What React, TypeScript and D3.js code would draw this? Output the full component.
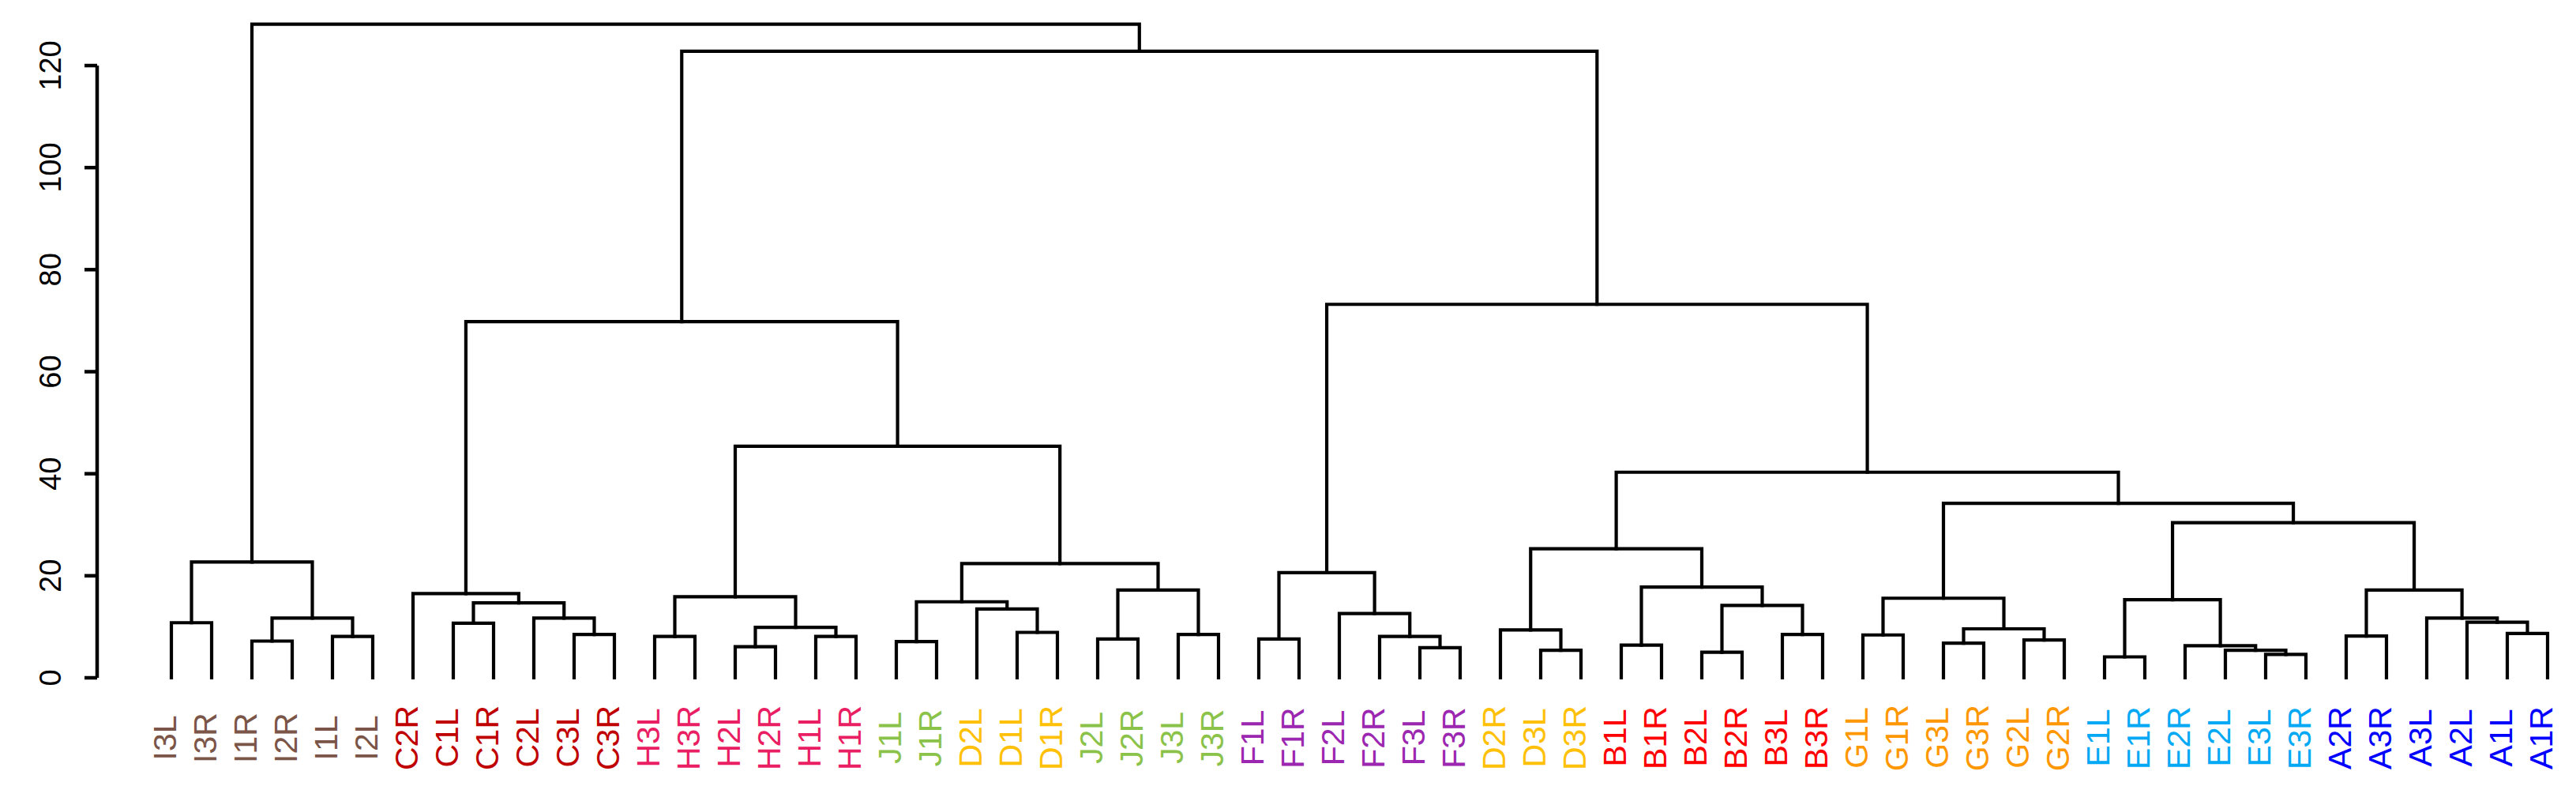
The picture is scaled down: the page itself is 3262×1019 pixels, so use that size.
import React from "react";
import * as d3 from "d3";

const leafLabels = [
  "I3L", "I3R", "I1R", "I2R", "I1L", "I2L",
  "C2R", "C1L", "C1R", "C2L", "C3L", "C3R",
  "H3L", "H3R", "H2L", "H2R", "H1L", "H1R",
  "J1L", "J1R", "D2L", "D1L", "D1R", "J2L", "J2R", "J3L", "J3R",
  "F1L", "F1R", "F2L", "F2R", "F3L", "F3R",
  "D2R", "D3L", "D3R",
  "B1L", "B1R", "B2L", "B2R", "B3L", "B3R",
  "G1L", "G1R", "G3L", "G3R", "G2L", "G2R",
  "E1L", "E1R", "E2R", "E2L", "E3L", "E3R",
  "A2R", "A3R", "A3L", "A2L", "A1L", "A1R",
];

// merge list: [childA, childB, height]; a string is a leaf label, a number is an earlier merge index
const merges: [string | number, string | number, number][] = [
  ["I3L", "I3R", 10.8], // 0
  ["I1R", "I2R", 7.2], // 1
  ["I1L", "I2L", 8.1], // 2
  [1, 2, 11.7], // 3
  [0, 3, 22.7], // 4
  ["C1L", "C1R", 10.7], // 5
  ["C3L", "C3R", 8.5], // 6
  ["C2L", 6, 11.7], // 7
  [5, 7, 14.7], // 8
  ["C2R", 8, 16.5], // 9
  ["H3L", "H3R", 8.1], // 10
  ["H2L", "H2R", 6.1], // 11
  ["H1L", "H1R", 8.1], // 12
  [11, 12, 9.9], // 13
  [10, 13, 15.9], // 14
  ["J1L", "J1R", 7.1], // 15
  ["D1L", "D1R", 8.9], // 16
  ["D2L", 16, 13.5], // 17
  [15, 17, 14.9], // 18
  ["J2L", "J2R", 7.6], // 19
  ["J3L", "J3R", 8.5], // 20
  [19, 20, 17.2], // 21
  [18, 21, 22.4], // 22
  [14, 22, 45.4], // 23
  [9, 23, 69.8], // 24
  ["F1L", "F1R", 7.6], // 25
  ["F3L", "F3R", 5.9], // 26
  ["F2R", 26, 8.1], // 27
  ["F2L", 27, 12.6], // 28
  [25, 28, 20.6], // 29
  ["D3L", "D3R", 5.4], // 30
  ["D2R", 30, 9.4], // 31
  ["B1L", "B1R", 6.4], // 32
  ["B2L", "B2R", 5.0], // 33
  ["B3L", "B3R", 8.5], // 34
  [33, 34, 14.2], // 35
  [32, 35, 17.8], // 36
  [31, 36, 25.3], // 37
  ["G1L", "G1R", 8.4], // 38
  ["G3L", "G3R", 6.8], // 39
  ["G2L", "G2R", 7.4], // 40
  [39, 40, 9.6], // 41
  [38, 41, 15.6], // 42
  ["E1L", "E1R", 4.1], // 43
  ["E3L", "E3R", 4.6], // 44
  ["E2L", 44, 5.4], // 45
  ["E2R", 45, 6.3], // 46
  [43, 46, 15.3], // 47
  ["A2R", "A3R", 8.2], // 48
  ["A1L", "A1R", 8.7], // 49
  ["A2L", 49, 10.9], // 50
  ["A3L", 50, 11.7], // 51
  [48, 51, 17.2], // 52
  [47, 52, 30.4], // 53
  [42, 53, 34.2], // 54
  [37, 54, 40.3], // 55
  [29, 55, 73.2], // 56
  [24, 56, 122.8], // 57
  [4, 57, 128.1], // 58
];

const yTicks = [0, 20, 40, 60, 80, 100, 120];

const groupKeys = ["I", "C", "H", "J", "D", "F", "B", "G", "E", "A"];
const groupColors = [
  "#7B5547", "#C00000", "#E91E63", "#8BC34A", "#FFC107",
  "#9C27B0", "#FF0000", "#FF9800", "#03A9F4", "#0000FF",
];

const W = 3262;
const H = 1019;

export default function App() {
  const x = d3.scaleLinear().domain([0, leafLabels.length - 1]).range([217, 3226]);
  const y = d3.scaleLinear().domain([0, 120]).range([858, 83]);
  const color = d3.scaleOrdinal<string, string>().domain(groupKeys).range(groupColors);

  const leafPos = new Map<string, { x: number; h: number }>();
  leafLabels.forEach((l, i) => leafPos.set(l, { x: x(i), h: 0 }));
  const nodePos: { x: number; h: number }[] = [];
  const ref = (r: string | number) => (typeof r === "number" ? nodePos[r] : leafPos.get(r)!);

  const paths: string[] = [];
  merges.forEach(([a, b, h]) => {
    const pa = ref(a);
    const pb = ref(b);
    const p = d3.path();
    p.moveTo(pa.x, y(pa.h));
    p.lineTo(pa.x, y(h));
    p.lineTo(pb.x, y(h));
    p.lineTo(pb.x, y(pb.h));
    paths.push(p.toString());
    nodePos.push({ x: (pa.x + pb.x) / 2, h });
  });

  const axisX = 123;

  return (
    <svg
      width={W}
      height={H}
      style={{ position: "absolute", left: 0, top: 0, background: "#fff" }}
      fontFamily="'Liberation Sans', Arial, sans-serif"
    >
      <rect x={0} y={0} width={W} height={H} fill="#fff" />
      {/* y axis */}
      <line x1={axisX} x2={axisX} y1={y(0)} y2={y(120)} stroke="#000" strokeWidth={4.5} />
      {yTicks.map((t) => (
        <g key={t}>
          <line x1={axisX - 16} x2={axisX} y1={y(t)} y2={y(t)} stroke="#000" strokeWidth={4.5} />
          <text
            transform={`translate(${77},${y(t)}) rotate(-90)`}
            textAnchor="middle"
            fontSize={38}
            fill="#000"
          >
            {t}
          </text>
        </g>
      ))}
      {/* dendrogram */}
      {paths.map((d, i) => (
        <path key={i} d={d} fill="none" stroke="#000" strokeWidth={4.2} strokeLinecap="square" strokeLinejoin="miter" />
      ))}
      {/* leaf labels */}
      {leafLabels.map((l, i) => (
        <text
          key={l}
          transform={`translate(${x(i) + 6},${934}) rotate(-90)`}
          textAnchor="middle"
          fontSize={41}
          fill={color(l[0])}
        >
          {l}
        </text>
      ))}
    </svg>
  );
}
